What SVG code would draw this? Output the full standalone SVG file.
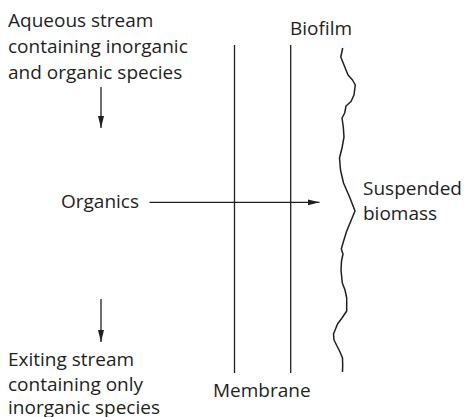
<svg xmlns="http://www.w3.org/2000/svg" width="468" height="417" viewBox="0 0 468 417">
<style>
text{font-family:"Open Sans","Noto Sans","Liberation Sans",sans-serif;font-size:19px;fill:#231f20}
.ln{stroke:#231f20;stroke-width:1.3;fill:none}
.wv{stroke:#231f20;stroke-width:1.5;fill:none;stroke-linejoin:round}
</style>
<defs>
<marker id="ah" markerUnits="userSpaceOnUse" markerWidth="12" markerHeight="8" refX="12" refY="4" orient="auto">
<path d="M0,1 L12,4 L0,7 z" fill="#231f20"/>
</marker>
</defs>
<rect width="468" height="417" fill="#fff"/>
<g id="membrane">
<line class="ln" x1="234.5" y1="45" x2="234.5" y2="373"/>
<line class="ln" x1="290.7" y1="45" x2="290.7" y2="373"/>
<text x="213" y="397">Membrane</text>
</g>
<g id="biofilm">
<path class="wv" d="M342.7,48 L340.8,57 L344,65 L348,75 L352.5,80 L355.3,85 L354,95 L351,101.5 L346,106 L344.7,113 L342,118 L343.3,127 L344,137 L342,148 L339.5,158 L340.5,170 L343.5,183 L350,198 L355,211 L351.7,219 L346.7,231 L343.3,242 L341.3,249 L343,254 L341.5,261 L341,270 L342.3,283 L345,290 L346.7,298 L346.7,311 L342,318 L337.5,324 L333.5,334 L334,340 L337,346 L340,352 L342.5,358 L342.7,365 L342.5,372"/>
<text x="290" y="34.5">Biofilm</text>
</g>
<g id="inlet">
<text x="8" y="27">Aqueous stream</text>
<text x="8" y="53">containing inorganic</text>
<text x="8" y="79">and organic species</text>
</g>
<g id="organics">
<text x="61" y="208">Organics</text>
</g>
<g id="suspended">
<text x="363" y="195">Suspended</text>
<text x="363" y="220">biomass</text>
</g>
<g id="outlet">
<text x="8" y="366">Exiting stream</text>
<text x="8" y="391">containing only</text>
<text x="8" y="414">inorganic species</text>
</g>
<g id="connectors">
<line class="ln" x1="149.5" y1="202.3" x2="319.5" y2="202.3" marker-end="url(#ah)"/>
<line class="ln" x1="101" y1="87" x2="101" y2="128" marker-end="url(#ah)"/>
<line class="ln" x1="101" y1="299" x2="101" y2="342" marker-end="url(#ah)"/>
</g>
</svg>
